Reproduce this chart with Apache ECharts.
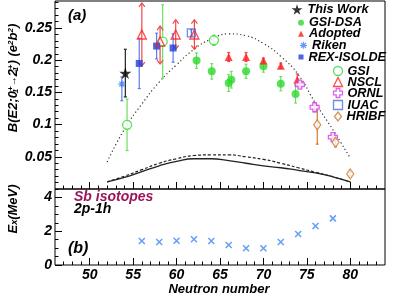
<!DOCTYPE html>
<html><head><meta charset="utf-8">
<script src="https://cdn.jsdelivr.net/npm/echarts@6/dist/echarts.min.js"></script>
<style>html,body{margin:0;padding:0;background:#fff}#c{width:415px;height:299px}</style>
</head><body><div id="c"></div>
<script>
// ---- tick values ----
const xMajor = [50, 55, 60, 65, 70, 75, 80];
const xMinor = [47,48,49,50,51,52,53,54,55,56,57,58,59,60,61,62,63,64,65,66,67,68,69,70,71,72,73,74,75,76,77,78,79,80,81,82,83];
const yMajorA = [0.05, 0.1, 0.15, 0.2, 0.25];
const yMinorA = [0.01,0.02,0.03,0.04,0.05,0.06,0.07,0.08,0.09,0.1,0.11,0.12,0.13,0.14,0.15,0.16,0.17,0.18,0.19,0.2,0.21,0.22,0.23,0.24,0.25,0.26,0.27,0.28,0.29];
const yMajorB = [0, 2, 4];
const yMinorB = [0.5,1,1.5,2,2.5,3,3.5,4,4.5];

// ---- theory curves (panel a) ----
const curveN  = [52,54,56,58,60,62,64,66,68,70,72,74,76,78,80];
const dottedB = [0.042,0.093,0.132,0.166,0.193,0.217,0.233,0.241,0.238,0.226,0.206,0.178,0.133,0.092,0.048];
const solidB  = [0.011,0.018,0.027,0.036,0.043,0.047,0.047,0.044,0.040,0.036,0.033,0.029,0.025,0.019,0.011];
const dashedB = [0.011,0.020,0.030,0.040,0.047,0.052,0.053,0.053,0.050,0.046,0.040,0.033,0.026,0.019,0.011];

// ---- experimental data (panel a) ----
const thisWorkN = [54.1];  const thisWorkB = [0.180]; const thisWorkLo = [0.037]; const thisWorkHi = [0.037];
const gsiDsaN = [62.3, 64.05, 66.0, 66.3, 68.0, 70.0, 72.0, 73.7];
const gsiDsaB = [0.1994, 0.1827, 0.1646, 0.1698, 0.1827, 0.1905, 0.1636, 0.1475];
const gsiDsaErr = [0.012, 0.012, 0.013, 0.013, 0.011, 0.009, 0.011, 0.014];
const adoptedN = [66.0, 68.0, 70.0, 72.0, 73.9];
const adoptedB = [0.205, 0.205, 0.1994, 0.1916, 0.1698];
const adoptedErr = [0.007, 0.007, 0.004, 0.004, 0.009];
const rikenN = [53.7]; const rikenB = [0.163]; const rikenLo = [0.026]; const rikenHi = [0.011];
const rexN = [55.7, 57.7, 59.6]; const rexB = [0.195, 0.222, 0.219]; const rexErr = [0.039, 0.02, 0.022];
const gsiN = [54.3, 58.4, 64.3]; const gsiB = [0.0997, 0.229, 0.231]; const gsiErr = [0.04, 0.057, 0.008];
const nsclN = [56.0, 58.1, 59.9, 62.05]; const nsclB = [0.240, 0.229, 0.240, 0.240];
const nsclLo = [0.049, 0.035, 0.023, 0.023]; const nsclHi = [0.049, 0.024, 0.023, 0.023];
const ornlN = [74.2, 75.9, 78.0]; const ornlB = [0.162, 0.127, 0.0805]; const ornlErr = [0.005, 0.007, 0.004];
const iuacN = [61.7]; const iuacB = [0.2425]; const iuacErr = [0.005];
const hribfN = [76.2, 78.3, 80.0]; const hribfB = [0.0997, 0.0727, 0.0234]; const hribfErr = [0.03, 0.007, 0.003];

// ---- panel b: Sb isotopes 2p-1h ----
const sbN = [56, 58, 60, 62, 64, 66, 68, 70, 72, 74, 76, 78];
const sbE = [1.42, 1.36, 1.44, 1.52, 1.42, 1.18, 0.99, 0.99, 1.36, 1.83, 2.31, 2.76];

const FF = '"Liberation Sans", Arial, sans-serif';
const BI = {fontFamily: FF, fontStyle: 'italic', fontWeight: 'bold', color: '#000'};

const pts = (N, B) => N.map((n, i) => [n, B[i]]);
const errs = (N, B, lo, hi) => N.map((n, i) => [n, B[i], B[i] - lo[i], B[i] + hi[i]]);

function errRender(color, arrow) {
  return function (params, api) {
    const x = api.value(0), lo = api.value(2), hi = api.value(3);
    const a = api.coord([x, hi]), b = api.coord([x, lo]);
    const st = {stroke: color, lineWidth: 1.2, fill: 'none'};
    const ch = [{type: 'line', shape: {x1: a[0], y1: a[1], x2: b[0], y2: b[1]}, style: st}];
    if (arrow) {
      ch.push({type: 'polyline', shape: {points: [[a[0]-3, a[1]+4], [a[0], a[1]], [a[0]+3, a[1]+4]]}, style: st});
      ch.push({type: 'polyline', shape: {points: [[b[0]-3, b[1]-4], [b[0], b[1]], [b[0]+3, b[1]-4]]}, style: st});
    } else {
      ch.push({type: 'line', shape: {x1: a[0]-1.5, y1: a[1], x2: a[0]+1.5, y2: a[1]}, style: st});
      ch.push({type: 'line', shape: {x1: b[0]-1.5, y1: b[1], x2: b[0]+1.5, y2: b[1]}, style: st});
    }
    return {type: 'group', children: ch};
  };
}
function errSeries(data, color, arrow) {
  return {type: 'custom', xAxisIndex: 0, yAxisIndex: 0, renderItem: errRender(color, arrow),
    data: data, encode: {x: 0, y: [1, 2, 3]}, silent: true, z: 2};
}

const STAR = 'path://M50,0L61,35L98,35L68,57L79,91L50,70L21,91L32,57L2,35L39,35Z';
const AST = 'path://M0,5L10,5M5,0L5,10M1.5,1.5L8.5,8.5M8.5,1.5L1.5,8.5';
const PLUS = 'path://M3,0L7,0L7,3L10,3L10,7L7,7L7,10L3,10L3,7L0,7L0,3L3,3Z';
const XMARK = 'path://M0,0L10,10M10,0L0,10';

const C = {
  star: '#000', green: '#2fd82f', greenBar: '#6ee05f', red: '#ff1e1e', redBar: '#f04848',
  rex: '#1e3fdc', rexBar: '#5c7cee', riken: '#3f7ff5', iuac: '#4a6ee6', ornl: '#d23ce6',
  hribf: '#d0782a', sb: '#3d85f5'
};

function xAxisDef(grid, ticks, len, labels) {
  return {gridIndex: grid, type: 'value', min: 46, max: 84, position: 'bottom',
    axisLine: {show: false}, splitLine: {show: false},
    axisTick: {show: true, inside: true, length: len, customValues: ticks, lineStyle: {color: '#000', width: 1}},
    axisLabel: labels ? Object.assign({show: true, customValues: labels, margin: 3, fontSize: 14}, BI) : {show: false}};
}
function yAxisDef(grid, min, max, ticks, len, labels) {
  return {gridIndex: grid, type: 'value', min: min, max: max, position: 'left',
    axisLine: {show: false}, splitLine: {show: false},
    axisTick: {show: true, inside: true, length: len, customValues: ticks, lineStyle: {color: '#000', width: 1}},
    axisLabel: labels ? Object.assign({show: true, customValues: labels, margin: 3, fontSize: 14}, BI) : {show: false}};
}

// one legend component per entry: exact placement
function legendItem(name, icon, itemStyle, left, centerY, w, h) {
  return {show: true, orient: 'vertical', left: left, top: centerY - 7, padding: 0, itemGap: 0,
    itemWidth: w, itemHeight: h, selectedMode: false,
    textStyle: Object.assign({fontSize: 12.7, lineHeight: 14}, BI),
    data: [{name: name, icon: icon, itemStyle: itemStyle}]};
}

const chart = echarts.init(document.getElementById('c'), null, {renderer: 'canvas'});
chart.setOption({
  animation: false,
  backgroundColor: '#fff',
  grid: [
    {left: 55, right: 30, top: 1, height: 188, show: true, borderColor: '#000', borderWidth: 1, backgroundColor: 'transparent'},
    {left: 55, right: 30, top: 189, height: 76, show: true, borderColor: '#000', borderWidth: 1, backgroundColor: 'transparent'}
  ],
  xAxis: [
    xAxisDef(0, xMajor, 7, null),
    xAxisDef(0, xMinor, 3.5, null),
    xAxisDef(1, xMajor, 7, xMajor),
    xAxisDef(1, xMinor, 3.5, null)
  ],
  yAxis: [
    yAxisDef(0, 0, 0.292, yMajorA, 7, yMajorA),
    yAxisDef(0, 0, 0.292, yMinorA, 3.5, null),
    yAxisDef(1, 0, 4.5, yMajorB, 7, yMajorB),
    yAxisDef(1, 0, 4.5, yMinorB, 3.5, null)
  ],
  legend: [
    legendItem('This Work', STAR, {color: C.star, borderWidth: 0}, 291.5, 9.5, 11, 11),
    legendItem('GSI-DSA', 'circle', {color: C.green, borderWidth: 0}, 298, 22.7, 6, 6),
    legendItem('Adopted', 'triangle', {color: C.red, borderWidth: 0}, 298, 33.8, 6, 6),
    legendItem('Riken', AST, {color: 'none', borderColor: C.riken, borderWidth: 1.2}, 297.5, 45.3, 7, 7),
    legendItem('REX-ISOLDE', 'rect', {color: C.rex, borderWidth: 0}, 298.5, 57, 5, 5),
    legendItem('GSI', 'circle', {color: 'none', borderColor: C.green, borderWidth: 1.3}, 331, 71, 9, 9),
    legendItem('NSCL', 'triangle', {color: 'none', borderColor: C.red, borderWidth: 1.3}, 331, 82, 9, 9),
    legendItem('ORNL', PLUS, {color: 'none', borderColor: C.ornl, borderWidth: 1.3}, 331, 93, 9, 9),
    legendItem('IUAC', 'rect', {color: 'none', borderColor: C.iuac, borderWidth: 1.3}, 331, 105, 9, 9),
    legendItem('HRIBF', 'diamond', {color: 'none', borderColor: C.hribf, borderWidth: 1.3}, 332, 116.5, 7, 9)
  ],
  graphic: [
    {type: 'text', left: 68, top: 8, style: {text: '(a)', font: 'italic bold 15px ' + FF, fill: '#000'}},
    {type: 'text', left: 68, top: 241, style: {text: '(b)', font: 'italic bold 16px ' + FF, fill: '#000'}},
    {type: 'text', left: 74, top: 190, style: {text: 'Sb isotopes', font: 'italic bold 14px ' + FF, fill: '#9c1458'}},
    {type: 'text', left: 74, top: 202, style: {text: '2p-1h', font: 'italic bold 14px ' + FF, fill: '#000'}},
    {type: 'text', x: 13.5, y: 78, rotation: Math.PI / 2,
     style: {text: '{m|B(E2;0}{b|1}{t|+}{a|\u2192}{m|2}{b|1}{t|+}{m|) (e}{t|2}{m|b}{t|2}{m|)}',
       align: 'center', verticalAlign: 'middle', fill: '#000',
       rich: {
         m: {fontFamily: FF, fontStyle: 'italic', fontWeight: 'bold', fontSize: 13, fill: '#000'},
         a: {fontFamily: FF, fontStyle: 'italic', fontWeight: 'bold', fontSize: 10, fill: '#000'},
         b: {fontFamily: FF, fontStyle: 'italic', fontWeight: 'bold', fontSize: 8, verticalAlign: 'bottom', width: 0, fill: '#000'},
         t: {fontFamily: FF, fontStyle: 'italic', fontWeight: 'bold', fontSize: 8, verticalAlign: 'top', fill: '#000'}
       }}},
    {type: 'text', x: 13, y: 209, rotation: Math.PI / 2,
     style: {text: '{m|E}{b|x}{m|(MeV)}', align: 'center', verticalAlign: 'middle', fill: '#000',
       rich: {
         m: {fontFamily: FF, fontStyle: 'italic', fontWeight: 'bold', fontSize: 13, fill: '#000'},
         b: {fontFamily: FF, fontStyle: 'italic', fontWeight: 'bold', fontSize: 9, verticalAlign: 'bottom', fill: '#000'}
       }}},
    {type: 'text', x: 219, y: 289,
     style: {text: 'Neutron number', font: 'italic bold 13px ' + FF, fill: '#000', align: 'center', verticalAlign: 'middle'}}
  ],
  series: [
    {type: 'line', xAxisIndex: 0, yAxisIndex: 0, data: pts(curveN, dottedB), smooth: true, symbol: 'none', silent: true,
     lineStyle: {color: '#333', width: 1.2, type: [1.2, 2.6]}, z: 1},
    {type: 'line', xAxisIndex: 0, yAxisIndex: 0, data: pts(curveN, solidB), smooth: true, symbol: 'none', silent: true,
     lineStyle: {color: '#222', width: 1.3}, z: 1},
    {type: 'line', xAxisIndex: 0, yAxisIndex: 0, data: pts(curveN, dashedB), smooth: true, symbol: 'none', silent: true,
     lineStyle: {color: '#222', width: 1.2, type: [3, 2]}, z: 1},

    errSeries(errs(gsiN, gsiB, gsiErr, gsiErr), C.greenBar, false),
    errSeries(errs(gsiDsaN, gsiDsaB, gsiDsaErr, gsiDsaErr), C.greenBar, false),
    errSeries(errs(rikenN, rikenB, rikenLo, rikenHi), C.rexBar, false),
    errSeries(errs(rexN, rexB, rexErr, rexErr), C.rexBar, false),
    errSeries(errs(nsclN, nsclB, nsclLo, nsclHi), C.redBar, true),
    errSeries(errs(adoptedN, adoptedB, adoptedErr, adoptedErr), C.redBar, false),
    errSeries(errs(iuacN, iuacB, iuacErr, iuacErr), C.iuac, false),
    errSeries(errs(ornlN, ornlB, ornlErr, ornlErr), C.ornl, false),
    errSeries(errs(hribfN, hribfB, hribfErr, hribfErr), C.hribf, false),
    errSeries(errs(thisWorkN, thisWorkB, thisWorkLo, thisWorkHi), '#222', false),

    {name: 'GSI', type: 'scatter', xAxisIndex: 0, yAxisIndex: 0, data: pts(gsiN, gsiB), symbol: 'circle', symbolSize: 9,
     itemStyle: {color: '#fff', borderColor: C.green, borderWidth: 1.3}, z: 3},
    {name: 'GSI-DSA', type: 'scatter', xAxisIndex: 0, yAxisIndex: 0, data: pts(gsiDsaN, gsiDsaB), symbol: 'circle', symbolSize: 8,
     itemStyle: {color: C.green}, z: 3},
    {name: 'Riken', type: 'scatter', xAxisIndex: 0, yAxisIndex: 0, data: pts(rikenN, rikenB), symbol: AST, symbolSize: 7,
     itemStyle: {color: 'none', borderColor: C.riken, borderWidth: 1.3}, z: 3},
    {name: 'REX-ISOLDE', type: 'scatter', xAxisIndex: 0, yAxisIndex: 0, data: pts(rexN, rexB), symbol: 'rect', symbolSize: 7,
     itemStyle: {color: C.rex}, z: 3},
    {name: 'NSCL', type: 'scatter', xAxisIndex: 0, yAxisIndex: 0, data: pts(nsclN, nsclB), symbol: 'triangle', symbolSize: 9,
     itemStyle: {color: 'none', borderColor: C.red, borderWidth: 1.3}, z: 3},
    {name: 'Adopted', type: 'scatter', xAxisIndex: 0, yAxisIndex: 0, data: pts(adoptedN, adoptedB), symbol: 'triangle', symbolSize: 8,
     itemStyle: {color: C.red}, z: 3},
    {name: 'IUAC', type: 'scatter', xAxisIndex: 0, yAxisIndex: 0, data: pts(iuacN, iuacB), symbol: 'rect', symbolSize: 8,
     itemStyle: {color: 'none', borderColor: C.iuac, borderWidth: 1.3}, z: 3},
    {name: 'ORNL', type: 'scatter', xAxisIndex: 0, yAxisIndex: 0, data: pts(ornlN, ornlB), symbol: PLUS, symbolSize: 9,
     itemStyle: {color: '#fff', borderColor: C.ornl, borderWidth: 1.3}, z: 3},
    {name: 'HRIBF', type: 'scatter', xAxisIndex: 0, yAxisIndex: 0, data: pts(hribfN, hribfB), symbol: 'diamond', symbolSize: [7, 10],
     itemStyle: {color: '#fff', borderColor: C.hribf, borderWidth: 1.3}, z: 3},
    {name: 'This Work', type: 'scatter', xAxisIndex: 0, yAxisIndex: 0, data: pts(thisWorkN, thisWorkB), symbol: STAR, symbolSize: 12,
     itemStyle: {color: C.star}, z: 4},

    {name: 'Sb', type: 'scatter', xAxisIndex: 2, yAxisIndex: 2, data: pts(sbN, sbE), symbol: XMARK, symbolSize: 6,
     itemStyle: {color: 'none', borderColor: C.sb, borderWidth: 1.5}, z: 3}
  ]
});
</script>
</body></html>
